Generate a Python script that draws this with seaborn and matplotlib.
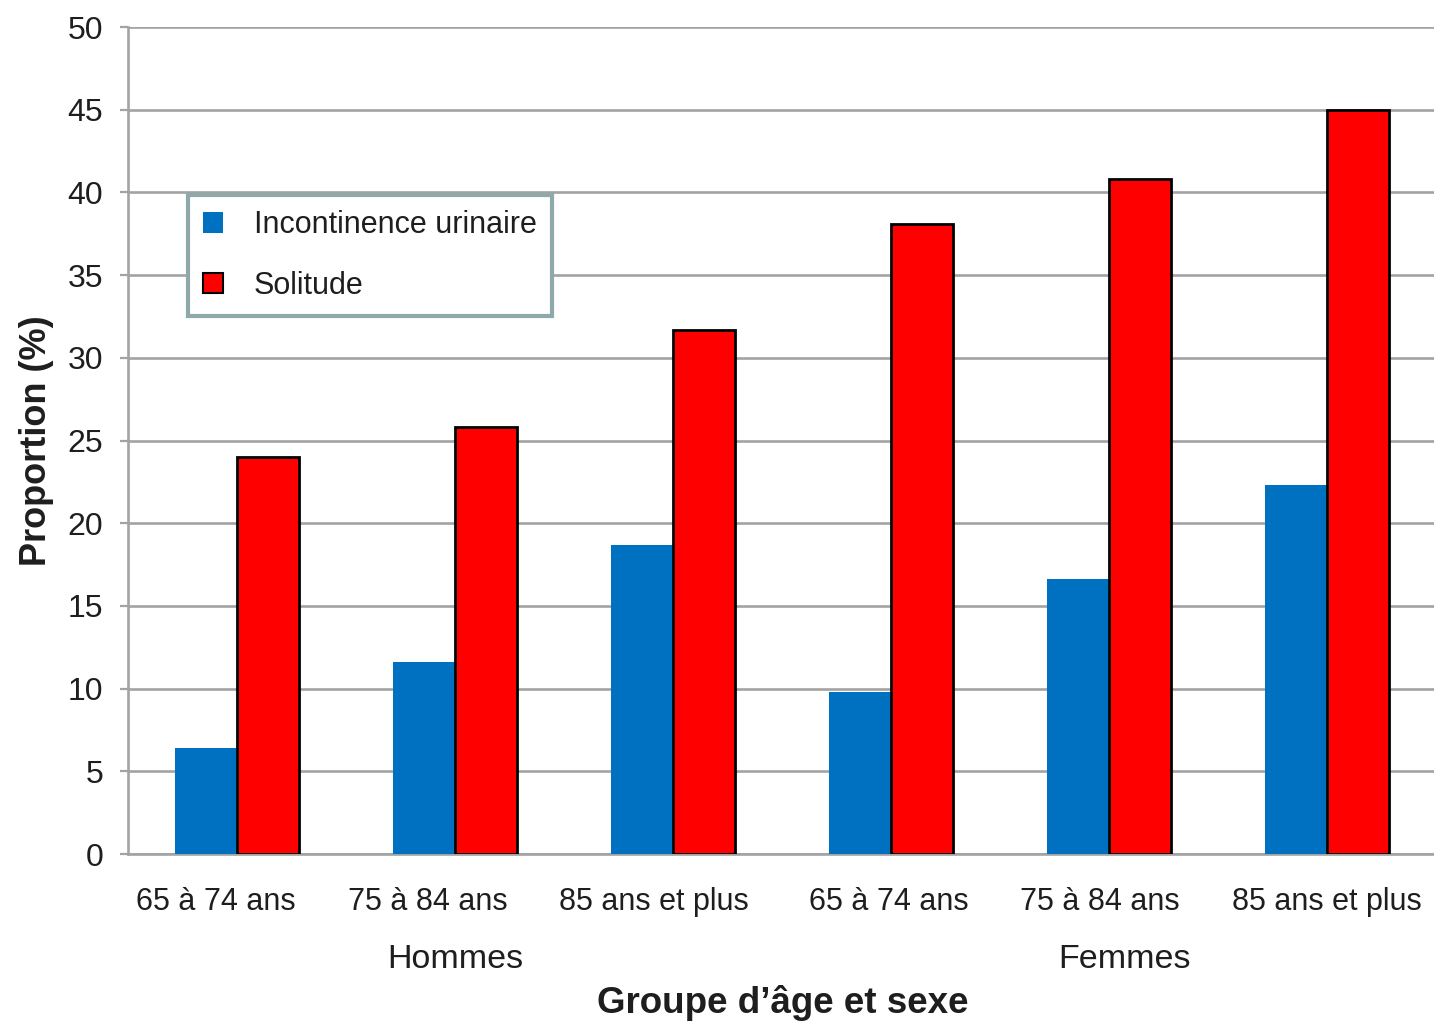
import matplotlib
matplotlib.use("Agg")
import matplotlib.pyplot as plt
import matplotlib.transforms as mtransforms
from matplotlib.patches import Patch
import seaborn as sns
import pandas as pd

# Data: proportion (%) by age group and sex
age_groups = ["65 à 74 ans", "75 à 84 ans", "85 ans et plus",
              "65 à 74 ans", "75 à 84 ans", "85 ans et plus"]
sexes = ["Hommes", "Femmes"]
series_names = ["Incontinence urinaire", "Solitude"]
incontinence = [6.4, 11.6, 18.7, 9.8, 16.6, 22.3]
solitude = [24.0, 25.8, 31.7, 38.1, 40.8, 45.0]
y_ticks = [0, 5, 10, 15, 20, 25, 30, 35, 40, 45, 50]

colors = {"Incontinence urinaire": "#0070c0", "Solitude": "#ff0000"}

slots = [f"{i}" for i in range(len(age_groups))]
df = pd.DataFrame({
    "slot": slots * 2,
    "value": incontinence + solitude,
    "serie": [series_names[0]] * len(slots) + [series_names[1]] * len(slots),
})

sns.set_style("white")
plt.rcParams["font.family"] = ["Liberation Sans", "DejaVu Sans"]
text_color = "#1e1e1e"
grid_color = "#a3a3a3"

fig = plt.figure(figsize=(14.34, 10.24), dpi=100)
ax = fig.add_axes([0.0893, 0.166, 0.9121, 0.8076])

sns.barplot(data=df, x="slot", y="value", hue="serie", order=slots,
            hue_order=series_names, palette=colors, width=0.565, gap=0,
            saturation=1, ax=ax, legend=False, zorder=3)

# Solitude bars get a black outline
for bar in ax.containers[1]:
    bar.set_edgecolor("black")
    bar.set_linewidth(2.0)
for bar in ax.containers[0]:
    bar.set_linewidth(0)

ax.set_xlim(-0.5, 5.5)
ax.set_ylim(0, 50)
ax.set_yticks(y_ticks)
ax.set_yticklabels([str(t) for t in y_ticks], fontsize=23, color=text_color)
ax.yaxis.grid(True, color=grid_color, linewidth=1.9, zorder=0)
ax.set_axisbelow(True)

# Category labels under each group, tick marks on category boundaries
ax.set_xticks(range(len(age_groups)))
ax.set_xticklabels(age_groups, fontsize=22, color=text_color)
ax.tick_params(axis="x", which="major", length=0, pad=24)
label_shift_px = [-21, -27, -19, -2, -9, 0]
for lbl, dx in zip(ax.get_xticklabels(), label_shift_px):
    lbl.set_transform(lbl.get_transform() +
                      mtransforms.ScaledTranslation(dx / 100, 0, fig.dpi_scale_trans))
ax.set_xticks([i - 0.5 for i in range(len(age_groups) + 1)], minor=True)
ax.tick_params(axis="x", which="minor", length=11, width=1.6, color=grid_color)
ax.tick_params(axis="y", which="major", length=6, width=1.6, color=grid_color,
               pad=12, left=True)

for side in ["top", "right"]:
    ax.spines[side].set_visible(False)
for side in ["left", "bottom"]:
    ax.spines[side].set_color(grid_color)
    ax.spines[side].set_linewidth(1.9)

ax.set_xlabel("")
ax.set_ylabel("Proportion (%)", fontsize=26, fontweight="bold",
              color=text_color, labelpad=10)

# Sex group labels under the age groups
trans = mtransforms.blended_transform_factory(ax.transData, fig.transFigure)
ax.text(1.0, 1 - 960 / 1024, sexes[0], transform=trans, ha="center",
        va="center", fontsize=24.5, color=text_color)
ax.text(4.07, 1 - 960 / 1024, sexes[1], transform=trans, ha="center",
        va="center", fontsize=24.5, color=text_color)
fig.text(783 / 1434, 1 - 1003 / 1024, "Groupe d\u2019âge et sexe",
         ha="center", va="center", fontsize=26.5, fontweight="bold",
         color=text_color)

handles = [
    Patch(facecolor=colors[series_names[0]], edgecolor="none", label=series_names[0]),
    Patch(facecolor=colors[series_names[1]], edgecolor="black", linewidth=1.5,
          label=series_names[1]),
]
leg = ax.legend(handles=handles, loc="upper left",
                bbox_to_anchor=(188 / 1434, 1 - 195 / 1024),
                bbox_transform=fig.transFigure, fontsize=22,
                frameon=True, fancybox=False, handlelength=0.65,
                handleheight=0.65, handletextpad=1.0, labelspacing=1.0,
                borderpad=0.5, borderaxespad=0, labelcolor=text_color)
frame = leg.get_frame()
frame.set_edgecolor("#8ea9aa")
frame.set_linewidth(3.0)
frame.set_facecolor("white")
frame.set_alpha(1)

fig.savefig("out.png", dpi=100, facecolor="white")
